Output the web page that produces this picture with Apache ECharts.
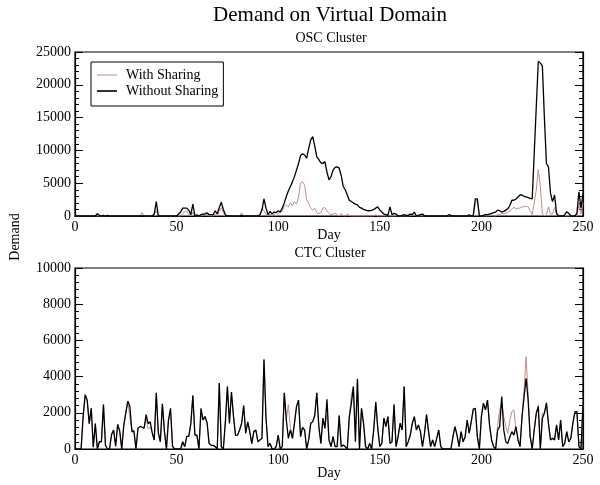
<!DOCTYPE html>
<html><head><meta charset="utf-8">
<script src="https://cdn.jsdelivr.net/npm/echarts@6/dist/echarts.min.js"></script>
<style>html,body{margin:0;padding:0;background:#fff}#c{width:600px;height:485px}</style>
</head><body><div id="c"></div>
<script>
// ---- data ----
const days = Array.from({length: 251}, (_, i) => i);
const xTicks = [0, 50, 100, 150, 200, 250];
const oscTicks = [0, 5000, 10000, 15000, 20000, 25000];
const ctcTicks = [0, 2000, 4000, 6000, 8000, 10000];
const seriesNames = ['With Sharing', 'Without Sharing'];

const oscWithout = [
0,0,0,0,0,0,0,0,0,0,
0,350,100,0,100,0,100,0,0,0,
0,0,0,0,0,0,0,0,0,0,
0,0,0,0,0,0,0,0,0,300,
2200,0,0,0,0,0,0,0,0,0,
0,300,600,1200,1200,1200,900,200,1800,0,
200,0,200,300,300,500,200,200,200,800,
300,1300,2100,1000,200,0,0,0,0,0,
0,0,100,0,0,0,0,0,0,0,
0,200,900,2600,1200,200,700,300,600,500,
800,600,1200,2000,3000,3800,4500,5200,6000,7000,
8000,9200,9500,9300,8800,10300,11600,12100,10600,9000,
8600,8100,8000,8300,6700,5500,6000,7000,7400,7500,
7300,6200,4500,4000,3200,2400,2200,2000,1800,1700,
1300,1200,1000,900,800,800,850,1000,1200,1400,
900,600,300,200,100,1400,200,400,300,0,
0,100,200,100,100,300,200,600,0,100,
200,300,0,0,0,0,0,0,0,0,
0,0,0,0,200,100,0,0,0,0,
0,0,0,0,200,0,100,2600,2600,0,
0,100,200,200,300,400,500,600,900,800,
600,700,900,1100,1600,2400,2400,2600,2900,3200,
3200,3000,2900,2800,2700,2600,9600,16600,23600,23300,
22900,15000,8000,7500,3500,2200,3200,400,0,0,
0,200,650,400,0,0,0,400,3700,1200,
3400];

const oscWith = [
0,0,0,0,0,0,0,0,0,0,
0,0,0,0,0,0,0,0,0,0,
0,0,0,0,0,0,0,0,0,0,
0,0,0,500,0,0,0,0,0,300,
800,0,0,0,0,0,0,0,0,0,
0,0,0,300,700,800,200,0,600,0,
0,0,0,200,500,200,0,0,0,300,
0,700,1300,500,0,0,0,0,0,0,
0,0,500,0,0,0,0,0,0,0,
0,0,1200,800,300,0,300,0,300,0,
400,500,800,1500,1700,1400,2000,1600,2200,1800,
2900,5000,5200,4700,2500,1900,1200,900,1200,500,
400,500,1200,1300,800,400,200,300,400,200,
0,400,0,0,300,100,0,0,0,0,
0,0,0,0,0,0,0,0,200,0,
0,0,0,0,0,0,0,0,0,0,
0,0,0,0,0,0,400,400,0,0,
0,0,0,0,0,0,0,0,0,0,
0,0,0,0,0,0,0,0,0,0,
0,0,0,0,0,0,0,2000,2500,0,
0,0,0,0,0,200,0,0,300,200,
400,300,500,600,700,1000,1400,1000,1200,1200,
1400,1400,1500,1400,800,200,2000,4000,7100,4500,
400,0,200,1400,300,300,1300,200,0,0,
0,0,0,0,0,0,0,0,1800,300,
2000];

const ctcWithout = [
0,0,0,0,1800,3000,2700,1400,2250,100,
1400,0,400,400,2450,200,0,0,800,1050,
150,1350,1000,0,1300,2000,2650,2350,950,1000,
0,1150,1250,1200,1150,1900,1400,1500,900,500,
3100,900,400,2500,1000,0,1600,2250,150,0,
0,0,0,400,130,700,700,1400,2950,770,
770,0,2250,1600,1800,1450,300,200,200,130,
0,3650,130,0,1500,3450,1420,3150,1800,750,
770,1050,1420,2400,870,1500,960,300,960,1050,
400,500,590,4950,1700,130,310,0,0,130,
770,0,130,3100,1600,590,1050,590,1420,2340,
2700,680,1200,1050,0,500,1420,1510,1880,3100,
1240,310,1700,1140,2750,500,130,680,130,130,
1850,130,220,130,0,1790,2500,3450,400,3870,
0,2250,1420,130,0,310,0,1050,2600,1140,
130,310,1700,1240,1790,310,400,2450,130,680,
1420,1050,3450,130,400,770,1420,1790,1050,1330,
960,130,870,1900,960,130,500,130,590,1050,
130,0,0,0,0,0,680,1240,770,130,
960,400,680,1600,870,1510,2200,2250,680,0,
1790,2530,2160,2700,1330,500,130,0,1050,1240,
2900,1050,400,310,680,960,770,1240,500,130,
1790,2900,3900,2710,680,0,1050,1970,2340,0,
1700,1970,2550,1420,500,590,500,1330,500,1600,
130,310,960,400,590,1420,2050,2070,130,0,
2440];

const ctcWith = [
0,0,0,0,1800,3000,2700,1400,2250,100,
1400,0,400,400,2450,200,0,0,800,1050,
150,1350,1000,0,1300,2000,2650,1700,1100,1000,
0,1150,1250,1200,1150,1700,1100,1200,900,500,
3100,900,400,2500,1000,0,1600,2100,150,0,
0,0,0,400,130,700,700,1400,2950,770,
770,0,1900,1600,1700,1450,300,200,200,130,
0,3650,130,0,1500,3450,1420,3150,1800,750,
770,1050,1420,2400,870,1500,960,300,960,1050,
400,500,590,4950,1700,130,310,0,0,130,
770,0,130,3100,1600,2450,1200,590,1420,2340,
2700,680,1200,1050,0,500,1420,1510,1800,3100,
1240,310,1700,1140,1900,500,130,680,130,130,
1850,130,220,130,0,1790,3000,3450,900,3870,
0,2250,1420,130,0,310,0,1050,2600,1140,
130,310,1700,1240,1790,310,400,2450,130,680,
1420,1050,3450,130,400,770,1420,1790,1050,1330,
960,130,870,1900,960,130,500,130,590,1050,
130,0,0,0,0,0,680,1240,770,130,
960,400,680,1600,870,1510,2200,2250,680,0,
1790,2530,2160,2700,1330,500,130,0,1300,2160,
2600,1790,1240,870,1600,2070,2160,1050,700,130,
1790,3300,5100,3000,680,0,1050,1970,2440,0,
2000,1970,2550,1420,500,590,500,1330,500,1600,
130,310,960,400,590,1420,2050,2070,130,0,
2440];

// ---- chart ----
const FONT = 'Liberation Serif';
const PINK = '#c48c8c';
const pairs = arr => days.map((d, i) => [d, arr[i]]);

function xAxisFor(gi, gap) {
  return {
    type: 'value', gridIndex: gi, min: xTicks[0], max: xTicks[xTicks.length - 1],
    interval: xTicks[1] - xTicks[0],
    axisLine: {show: true, lineStyle: {color: '#000', width: 1.2}},
    axisTick: {show: false}, splitLine: {show: false},
    axisLabel: {color: '#000', fontFamily: FONT, fontSize: 14, margin: 4},
    name: 'Day', nameLocation: 'middle', nameGap: gap, nameMoveOverlap: false,
    nameTextStyle: {color: '#000', fontFamily: FONT, fontSize: 14}
  };
}
function yAxisFor(gi, ticks, pos, labels) {
  return {
    type: 'value', gridIndex: gi, position: pos,
    min: ticks[0], max: ticks[ticks.length - 1], interval: ticks[1] - ticks[0],
    axisLine: {show: true, onZero: false, lineStyle: {color: '#000', width: 1.2}},
    axisTick: {show: true, inside: true, length: 8, lineStyle: {color: '#000', width: 1}},
    minorTick: {show: true, splitNumber: 5, length: 4, lineStyle: {color: '#000', width: 1}},
    splitLine: {show: false}, minorSplitLine: {show: false},
    axisLabel: {show: labels, color: '#000', fontFamily: FONT, fontSize: 14, margin: 4,
      formatter: v => String(v)}
  };
}
function lineSeries(name, gi, yi, arr, color, w, z) {
  return {
    name, type: 'line', xAxisIndex: gi, yAxisIndex: yi, data: pairs(arr),
    showSymbol: false, symbol: 'none', animation: false, z,
    lineStyle: {color, width: w}, itemStyle: {color}
  };
}

const chart = echarts.init(document.getElementById('c'), null, {renderer: 'canvas'});
chart.setOption({
  animation: false,
  backgroundColor: '#fff',
  grid: [
    {left: 75, right: 17, top: 52, height: 164, show: true, borderColor: '#000', borderWidth: 1.2},
    {left: 75, right: 17, top: 268, height: 181, show: true, borderColor: '#000', borderWidth: 1.2}
  ],
  xAxis: [xAxisFor(0, 12), xAxisFor(1, 17)],
  yAxis: [
    yAxisFor(0, oscTicks, 'left', true), yAxisFor(0, oscTicks, 'right', false),
    yAxisFor(1, ctcTicks, 'left', true), yAxisFor(1, ctcTicks, 'right', false)
  ],
  legend: {
    data: [
      {name: seriesNames[0], icon: 'path://M0,0L0,0M0,6.5L20,6.5L20,7.5L0,7.5ZM0,14L0,14'},
      {name: seriesNames[1], icon: 'path://M0,0L0,0M0,6.2L20,6.2L20,7.8L0,7.8ZM0,14L0,14'}
    ],
    orient: 'vertical', left: 91, top: 62, symbolKeepAspect: false,
    padding: [6, 5, 8, 6], itemGap: 2, itemWidth: 20, itemHeight: 14,
    borderColor: '#000', borderWidth: 1, selectedMode: false,
    textStyle: {color: '#000', fontFamily: FONT, fontSize: 14, padding: [0, 0, 0, 4]}
  },
  graphic: [
    {type: 'text', x: 330, y: 15, style: {text: 'Demand on Virtual Domain', fill: '#000',
      font: '21px "Liberation Serif"', textAlign: 'center', textVerticalAlign: 'middle'}},
    {type: 'text', x: 331, y: 38, style: {text: 'OSC Cluster', fill: '#000',
      font: '14px "Liberation Serif"', textAlign: 'center', textVerticalAlign: 'middle'}},
    {type: 'text', x: 330, y: 253, style: {text: 'CTC Cluster', fill: '#000',
      font: '14px "Liberation Serif"', textAlign: 'center', textVerticalAlign: 'middle'}},
    {type: 'text', x: 15, y: 237, rotation: Math.PI / 2, style: {text: 'Demand', fill: '#000',
      font: '14px "Liberation Serif"', textAlign: 'center', textVerticalAlign: 'middle'}}
  ],
  series: [
    lineSeries(seriesNames[0], 0, 0, oscWith, PINK, 1, 2),
    lineSeries(seriesNames[1], 0, 0, oscWithout, '#000', 1.3, 3),
    lineSeries(seriesNames[0], 1, 2, ctcWith, PINK, 1, 2),
    lineSeries(seriesNames[1], 1, 2, ctcWithout, '#000', 1.3, 3)
  ]
});
</script></body></html>
